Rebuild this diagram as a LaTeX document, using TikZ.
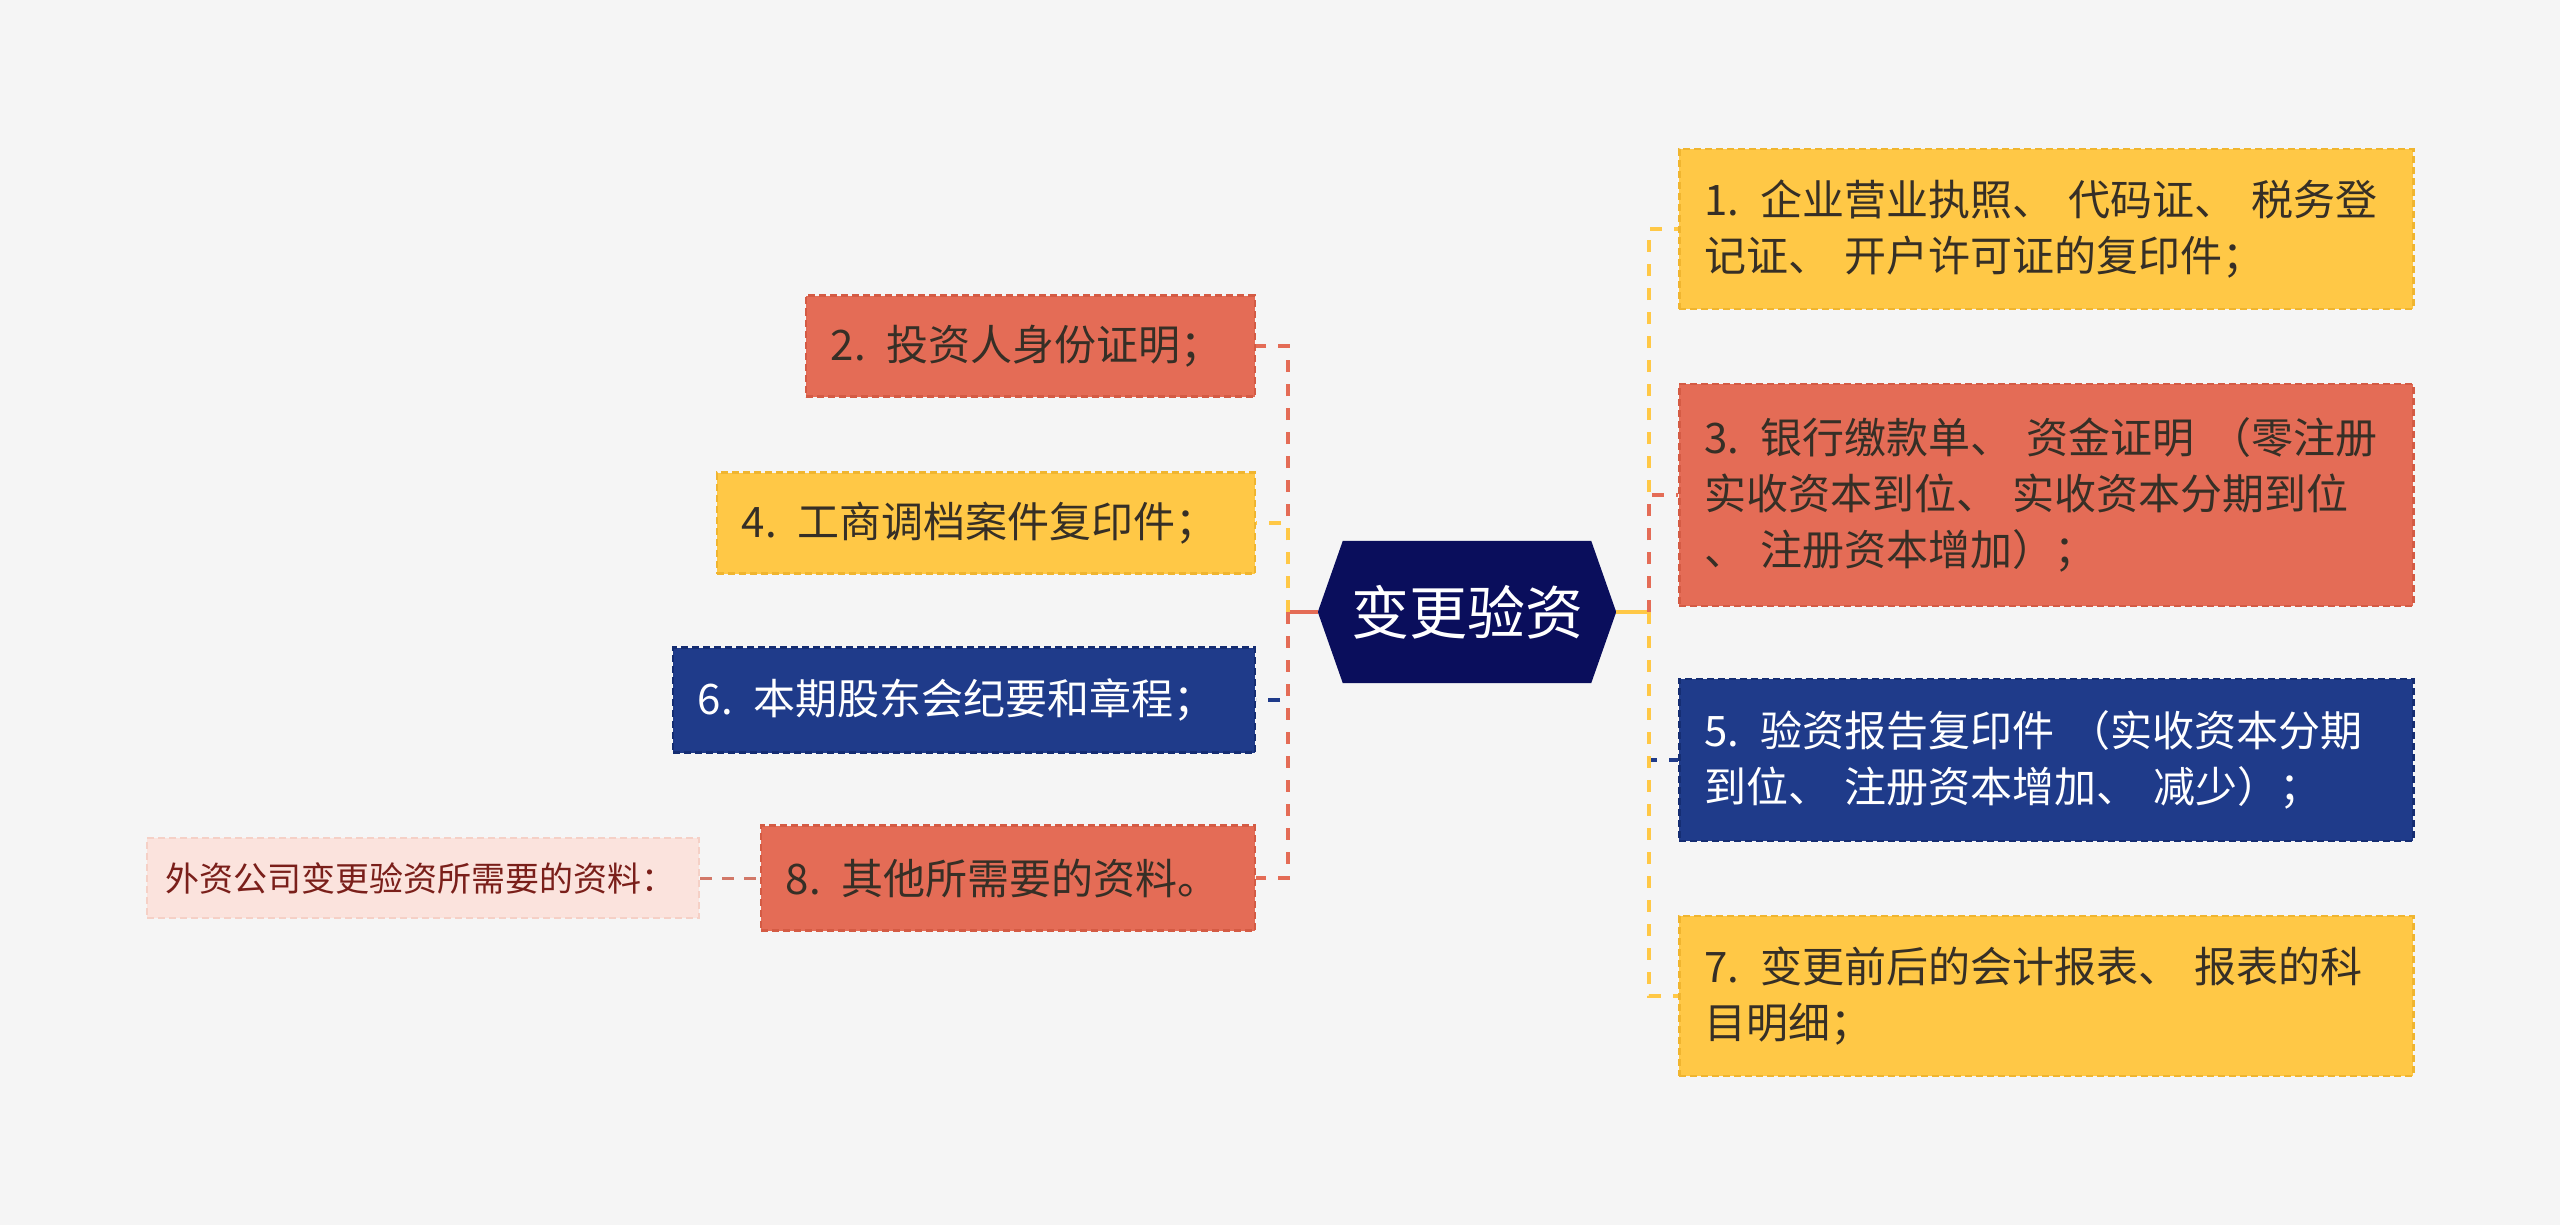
\documentclass[tikz,border=0pt]{standalone}
\usepackage{fontspec}
\setmainfont{Noto Sans CJK SC}
\definecolor{bg}{HTML}{F5F5F5}
\definecolor{cred}{HTML}{E46C56}
\definecolor{credb}{HTML}{D45B44}
\definecolor{cyel}{HTML}{FFC846}
\definecolor{cyelb}{HTML}{F0B52F}
\definecolor{cblue}{HTML}{1F3B8A}
\definecolor{cblueb}{HTML}{152D72}
\definecolor{croot}{HTML}{0A0E5C}
\definecolor{ctxt}{HTML}{362F26}
\definecolor{lpink}{HTML}{FBE3DD}
\definecolor{lpinkb}{HTML}{F5D0C6}
\definecolor{ltxt}{HTML}{7A1F1A}
\definecolor{lline}{HTML}{D27868}
\newcommand{\dn}{、\hspace{0.35em}}
\newcommand{\lpar}{\hspace{0.35em}（}
\tikzset{
  box/.style={rectangle, inner xsep=25pt, inner ysep=0pt, line width=2.5pt,
    dash pattern=on 7pt off 4pt, font=\fontsize{42}{56}\selectfont, align=left},
  redbox/.style={box, fill=cred, draw=credb, text=ctxt},
  yelbox/.style={box, fill=cyel, draw=cyelb, text=ctxt},
  bluebox/.style={box, fill=cblue, draw=cblueb, text=white},
  lbox/.style={rectangle, inner xsep=18pt, inner ysep=0pt, line width=2pt,
    dash pattern=on 7pt off 4pt, fill=lpink, draw=lpinkb, text=ltxt,
    font=\fontsize{34}{40}\selectfont, align=left},
  conn/.style={line width=4.5pt, dash pattern=on 12pt off 12pt},
  solidconn/.style={line width=4.5pt},
}
\begin{document}
\begin{tikzpicture}[x=1pt,y=-1pt]
\useasboundingbox (0,0) rectangle (2560,1225);
\fill[bg] (0,0) rectangle (2560,1225);

% root
\node[minimum width=298pt, minimum height=142pt, inner sep=0pt] (root) at (1467,612) {};
\fill[croot] (root.west) -- ([xshift=25pt]root.north west) -- ([xshift=-25pt]root.north east)
  -- (root.east) -- ([xshift=-25pt]root.south east) -- ([xshift=25pt]root.south west) -- cycle;
\node[text=white, font=\fontsize{58}{58}\selectfont] (roottext) at (root.center) {变更验资};

\coordinate (jl) at (1288,612);
\coordinate (jr) at (1649,612);

% left boxes
\node[redbox, text width=399pt, minimum height=101pt, anchor=east] (b2) at (1256,346) {2. 投资人身份证明；};
\node[yelbox, text width=488pt, minimum height=101pt, anchor=east] (b4) at (1256,523) {4. 工商调档案件复印件；};
\node[bluebox, text width=532pt, minimum height=105pt, anchor=east] (b6) at (1256,700) {6. 本期股东会纪要和章程；};
\node[redbox, text width=444pt, minimum height=105pt, anchor=east] (b8) at (1256,878) {8. 其他所需要的资料。};

% right boxes
\node[yelbox, text width=684pt, minimum height=160pt, anchor=west] (b1) at (1678,229) {1. 企业营业执照\dn 代码证\dn 税务登\\记证\dn 开户许可证的复印件；};
\node[redbox, text width=684pt, minimum height=222pt, anchor=west] (b3) at (1678,495) {3. 银行缴款单\dn 资金证明\lpar 零注册\\实收资本到位\dn 实收资本分期到位\\\dn 注册资本增加）；};
\node[bluebox, text width=684pt, minimum height=162pt, anchor=west] (b5) at (1678,760) {5. 验资报告复印件\lpar 实收资本分期\\到位\dn 注册资本增加\dn 减少）；};
\node[yelbox, text width=684pt, minimum height=160pt, anchor=west] (b7) at (1678,996) {7. 变更前后的会计报表\dn 报表的科\\目明细；};

% label
\node[lbox, text width=516pt, minimum height=80pt] (lab) at (423,878) {外资公司变更验资所需要的资料：};

% connectors left
\draw[solidconn, cred] (root.west) -- (jl);
\draw[conn, cred] (jl) |- (b2.east);
\draw[conn, cyel] (jl) |- (b4.east);
\draw[conn, cblue] (jl) |- (b6.east);
\draw[conn, cred] (jl) |- (b8.east);

% connectors right
\draw[solidconn, cyel] (root.east) -- (jr);
\draw[conn, cyel] (jr) |- (b1.west);
\draw[conn, cred] (jr) |- (b3.west);
\draw[conn, cblue] (jr) |- (b5.west);
\draw[conn, cyel] (jr) |- (b7.west);

% label connector
\draw[line width=3pt, lline, dash pattern=on 12pt off 10pt] (lab.east) -- (b8.west);
\end{tikzpicture}
\end{document}
